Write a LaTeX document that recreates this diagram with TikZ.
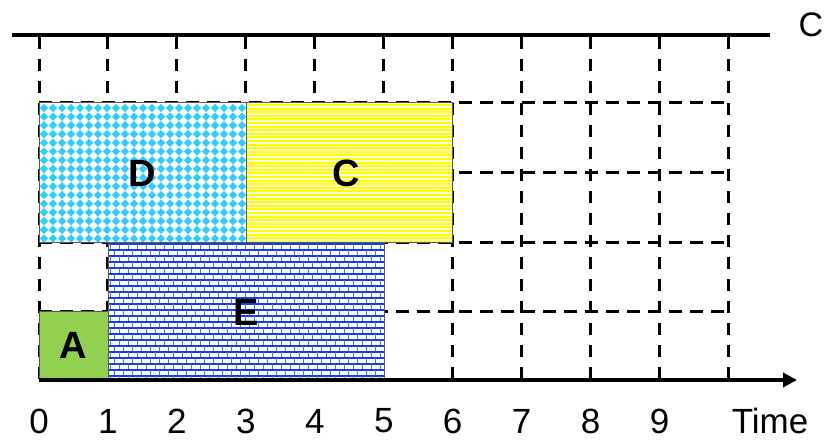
\documentclass[tikz,border=0pt]{standalone}
\usepackage{fontspec}
\setmainfont{Liberation Sans}
\usetikzlibrary{arrows.meta}
\definecolor{agreen}{RGB}{146,208,80}
\definecolor{diamc}{RGB}{51,204,255}
\definecolor{brickc}{RGB}{20,60,235}
\definecolor{linec}{RGB}{255,255,0}
\begin{document}
\begin{tikzpicture}[x=1pt,y=-1pt,
  gridline/.style={line width=3pt, dash pattern=on 12pt off 10pt},
  hgridline/.style={line width=3pt, dash pattern=on 13pt off 8pt},
  boxborder/.style={draw=black!65, line width=1pt},
  boxlabel/.style={font=\fontsize{38}{40}\selectfont\bfseries},
  ticklabel/.style={font=\fontsize{35}{40}\selectfont}]
\useasboundingbox (0,0) rectangle (829,441);
\def\u{68.95}
% grid
\foreach \i in {0,...,10} \draw[gridline] (39+\i*\u,37) -- (39+\i*\u,380);
\foreach \y in {103,172,242,311} \draw[hgridline] (39,\y) -- (729,\y);
% top line
\coordinate (topL) at (12,35);
\coordinate (topR) at (770,35);
\draw[line width=4pt] (topL) -- (topR);
\node[font=\fontsize{34}{36}\selectfont] (capC) at (811,25) {C};
% box A
\fill[agreen] (39,311) rectangle (108,380);
\draw[boxborder] (39,311) rectangle (108,380);
% box E (bricks)
\fill[white] (108,242) rectangle (384,380);
\begin{scope}
\clip (108,242) rectangle (384,380);
\foreach \r in {0,...,23} {
  \draw[brickc, line width=1.2pt] (108,244+\r*6) -- (384,244+\r*6);
  \pgfmathsetmacro\off{mod(\r,2)*4.5}
  \foreach \c in {0,...,31} \draw[brickc!75, line width=1pt] (110+\off+\c*9, 244+\r*6) -- ++(0,6);
}
\end{scope}
\draw[boxborder] (108,242) rectangle (384,380);
% box D (diamonds)
\fill[white] (39,103) rectangle (246,242);
\begin{scope}
\clip (39,103) rectangle (246,242);
\foreach \i in {0,...,23} \foreach \j in {0,...,16}
  \fill[diamc] (44+\i*9,108+\j*8.7) +(0,-4.2) -- +(4.2,0) -- +(0,4.2) -- +(-4.2,0) -- cycle;
\end{scope}
\draw[boxborder] (39,103) rectangle (246,242);
% box C (horizontal lines)
\fill[yellow!12] (246,103) rectangle (452,242);
\begin{scope}
\clip (246,103) rectangle (452,242);
\foreach \k in {0,...,39} \draw[linec, line width=2pt] (246,105+\k*3.6) -- (452,105+\k*3.6);
\end{scope}
\draw[boxborder] (246,103) rectangle (452,242);
% labels
\node[boxlabel] (A) at (73,345) {A};
\node[boxlabel] (E) at (246,312) {E};
\node[boxlabel] (D) at (142,173) {D};
\node[boxlabel] (C) at (346,173) {C};
% axis
\coordinate (ax0) at (39,380);
\coordinate (ax1) at (797,380);
\draw[line width=4pt, -{Triangle[length=14pt,width=14pt]}] (ax0) -- (ax1);
\foreach \i in {0,...,9} \node[ticklabel] (t\i) at (39+\i*\u,421) {\i};
\node[ticklabel] (time) at (770,421) {Time};
\end{tikzpicture}
\end{document}
